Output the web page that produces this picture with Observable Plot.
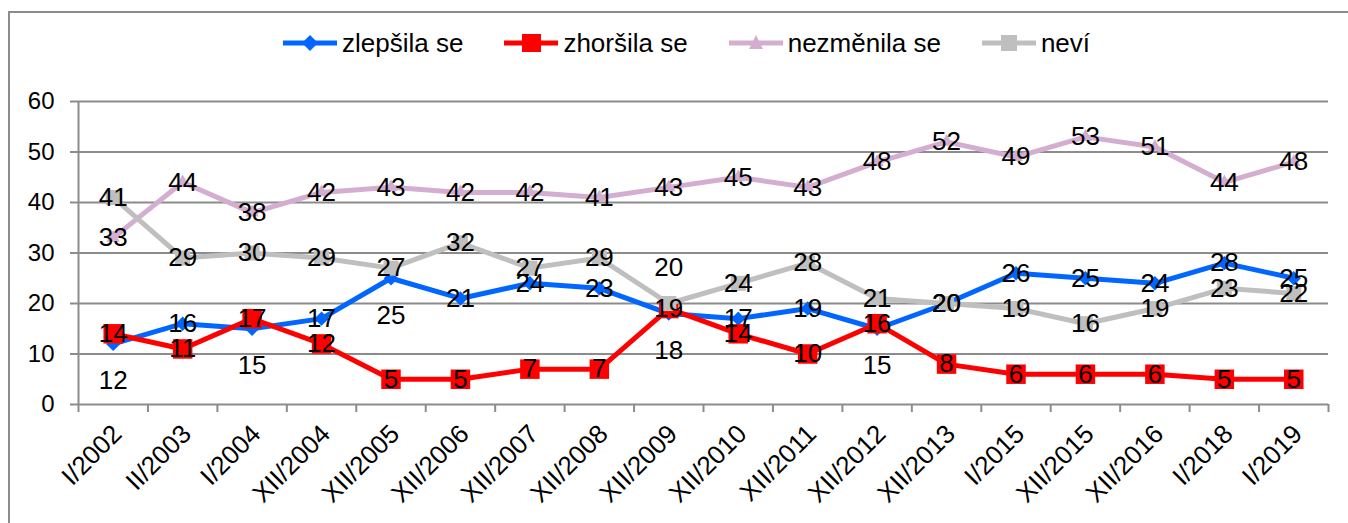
<!DOCTYPE html>
<html><head><meta charset="utf-8">
<script src="https://cdn.jsdelivr.net/npm/d3@7"></script>
<script src="https://cdn.jsdelivr.net/npm/@observablehq/plot@0.6"></script>
<style>
body{margin:0;background:#fff;font-family:"Liberation Sans",Arial,sans-serif}
#wrap{position:relative;width:1348px;height:523px;overflow:hidden;background:#fff}
#frame{position:absolute;left:8px;top:11px;width:1400px;height:600px;border:2px solid #8c8c8c;box-sizing:border-box;pointer-events:none}
#legend{position:absolute;top:28px;left:283px;height:30px;display:flex;align-items:center;gap:41px;font-size:26px;white-space:nowrap;color:#000}
.item{display:flex;align-items:center}
.item svg{margin-right:5px;display:block}
#chart{position:absolute;top:80px;left:0}
</style></head><body>
<div id="wrap"><div id="legend"></div><div id="chart"></div><div id="frame"></div></div>
<script>
const categories = ["I/2002","II/2003","I/2004","XII/2004","XII/2005","XII/2006","XII/2007","XII/2008","XII/2009","XII/2010","XII/2011","XII/2012","XII/2013","I/2015","XII/2015","XII/2016","I/2018","I/2019"];
const zlepsila  = [12,16,15,17,25,21,24,23,18,17,19,15,20,26,25,24,28,25];
const zhorsila  = [14,11,17,12,5,5,7,7,19,14,10,16,8,6,6,6,5,5];
const nezmenila = [33,44,38,42,43,42,42,41,43,45,43,48,52,49,53,51,44,48];
const nevi      = [41,29,30,29,27,32,27,29,20,24,28,21,20,19,16,19,23,22];
const seriesNames = ["zlepšila se","zhoršila se","nezměnila se","neví"];
const yTicks = [0,10,20,30,40,50,60];

// rendering config
const colors = ["#0066ff","#ff0000","#d3aed0","#bfbfbf"];
const symbols = ["diamond2","square","triangle","square"];
const radii = [6.5,11,5,8.5];
const labelBelow = {0: new Set(["I/2002","I/2004","XII/2005","XII/2009","XII/2012"])};
const labelAbove = {3: new Set(["XII/2009"])};

const allValues = [zlepsila, zhorsila, nezmenila, nevi];
const rows = [];
allValues.forEach((vals, s) => vals.forEach((v, i) => rows.push({s, i, cat: categories[i], v})));
const pos = d => (labelBelow[d.s] && labelBelow[d.s].has(d.cat)) ? "below" : (labelAbove[d.s] && labelAbove[d.s].has(d.cat)) ? "above" : "center";

const marks = [
  Plot.ruleY(yTicks, {stroke: "#8c8c8c", strokeWidth: 2}),
  Plot.ruleX([-0.5], {y1: 0, y2: 60, stroke: "#8c8c8c", strokeWidth: 2}),
  Plot.axisX(d3.range(categories.length + 1).map(i => i - 0.5), {tickSize: 8, stroke: "#8c8c8c", strokeWidth: 2, fill: "none", label: null, tickFormat: () => ""}),
  Plot.axisY(yTicks, {tickSize: 8, tickPadding: 16, stroke: "#8c8c8c", strokeWidth: 2, fill: "#000", fontSize: 24, label: null}),
  Plot.text(categories.map((c, i) => i), {x: d => d, text: d => categories[d], frameAnchor: "bottom", rotate: -45, textAnchor: "end", lineAnchor: "top", dx: -3, dy: 18, fontSize: 26, fill: "#000"})
];
allValues.forEach((vals, s) => {
  const data = rows.filter(r => r.s === s);
  marks.push(Plot.line(data, {x: "i", y: "v", stroke: colors[s], strokeWidth: 5, strokeLinejoin: "round"}));
  marks.push(Plot.dot(data, {x: "i", y: "v", symbol: symbols[s], r: radii[s], fill: colors[s], stroke: "none"}));
});
marks.push(Plot.text(rows, {filter: d => pos(d) === "center", x: "i", y: "v", text: d => String(d.v), fontSize: 26, fill: "#000"}));
marks.push(Plot.text(rows, {filter: d => pos(d) === "below", x: "i", y: "v", text: d => String(d.v), dy: 37, fontSize: 26, fill: "#000"}));
marks.push(Plot.text(rows, {filter: d => pos(d) === "above", x: "i", y: "v", text: d => String(d.v), dy: -36, fontSize: 26, fill: "#000"}));

const chart = Plot.plot({
  width: 1348, height: 443,
  marginLeft: 78, marginRight: 20, marginTop: 21, marginBottom: 119,
  style: {fontFamily: "'Liberation Sans', Arial, sans-serif", background: "transparent", overflow: "visible"},
  x: {type: "linear", domain: [-0.5, categories.length - 0.5], axis: null},
  y: {domain: [0, 60], axis: null},
  marks
});
document.getElementById("chart").appendChild(chart);

// legend
const legend = document.getElementById("legend");
seriesNames.forEach((name, s) => {
  const item = document.createElement("div");
  item.className = "item";
  const c = colors[s];
  let mk;
  if (s === 0) mk = `<polygon points="27,4 35,12 27,20 19,12" fill="${c}"/>`;
  else if (s === 1) mk = `<rect x="18" y="3" width="19" height="18" fill="${c}"/>`;
  else if (s === 2) mk = `<polygon points="27,4 34,18 20,18" fill="${c}"/>`;
  else mk = `<rect x="19" y="4" width="16" height="16" fill="${c}"/>`;
  item.innerHTML = `<svg width="54" height="24"><line x1="0" x2="54" y1="12" y2="12" stroke="${c}" stroke-width="5"/>${mk}</svg><span>${name}</span>`;
  legend.appendChild(item);
});
</script>
</body></html>
